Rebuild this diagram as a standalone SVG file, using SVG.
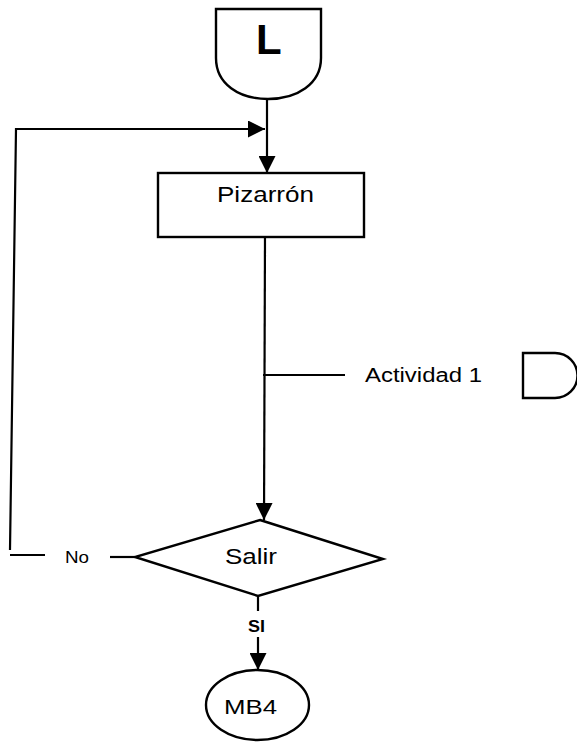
<svg xmlns="http://www.w3.org/2000/svg" width="577" height="750" viewBox="0 0 577 750">
<style>
.s{fill:none;stroke:#000;stroke-width:2.2}
.f{fill:#fff;stroke:#000;stroke-width:2.4}
.t{font-family:"Liberation Sans",Arial,sans-serif;fill:#000}
</style>
<defs>
<marker id="ah" viewBox="0 0 17 17" refX="17" refY="8.5" markerWidth="17" markerHeight="17" markerUnits="userSpaceOnUse" orient="auto">
<path d="M0,0 L17,8.5 L0,17 Z" fill="#000"/>
</marker>
</defs>
<rect width="577" height="750" fill="#fff"/>
<g id="connectors">
<path class="s" d="M267,99 L267,173" marker-end="url(#ah)"/>
<path class="s" d="M10,550 L16,129 L265,129" marker-end="url(#ah)"/>
<path class="s" d="M265,237 L264,520" marker-end="url(#ah)"/>
<path class="s" d="M263,375 L345,375"/>
<path class="s" d="M10,555 L45,555"/>
<path class="s" d="M110,557 L135,557"/>
<text class="t" x="65" y="563" font-size="17" textLength="24" lengthAdjust="spacingAndGlyphs">No</text>
<path class="s" d="M258,596 L258,611"/>
<path class="s" d="M258,637 L258,670" marker-end="url(#ah)"/>
<text class="t" x="248" y="632" font-size="17" font-weight="bold" textLength="17" lengthAdjust="spacingAndGlyphs">SI</text>
</g>
<g id="startL">
<path class="f" d="M216,9 L321,9 L321,58 C321,84 297,99 268,99 C239,99 216,84 216,58 Z"/>
<text class="t" x="256" y="54" font-size="42" font-weight="bold">L</text>
</g>
<g id="pizarron">
<rect class="f" x="158" y="173" width="206" height="64"/>
<text class="t" x="217" y="202" font-size="22" textLength="97" lengthAdjust="spacingAndGlyphs">Pizarrón</text>
</g>
<g id="actividad">
<text class="t" x="365" y="382" font-size="20" textLength="117" lengthAdjust="spacingAndGlyphs">Actividad 1</text>
<path class="f" d="M523,353 L555,353 A22.5,22.5 0 0 1 555,398 L523,398 Z"/>
</g>
<g id="salir">
<path class="f" d="M260,520 L383,559 L258,596 L135,557 Z"/>
<text class="t" x="225" y="564" font-size="22" textLength="52" lengthAdjust="spacingAndGlyphs">Salir</text>
</g>
<g id="mb4">
<ellipse class="f" cx="257.5" cy="705" rx="51.5" ry="35"/>
<text class="t" x="224" y="714" font-size="21" textLength="53" lengthAdjust="spacingAndGlyphs">MB4</text>
</g>
</svg>
